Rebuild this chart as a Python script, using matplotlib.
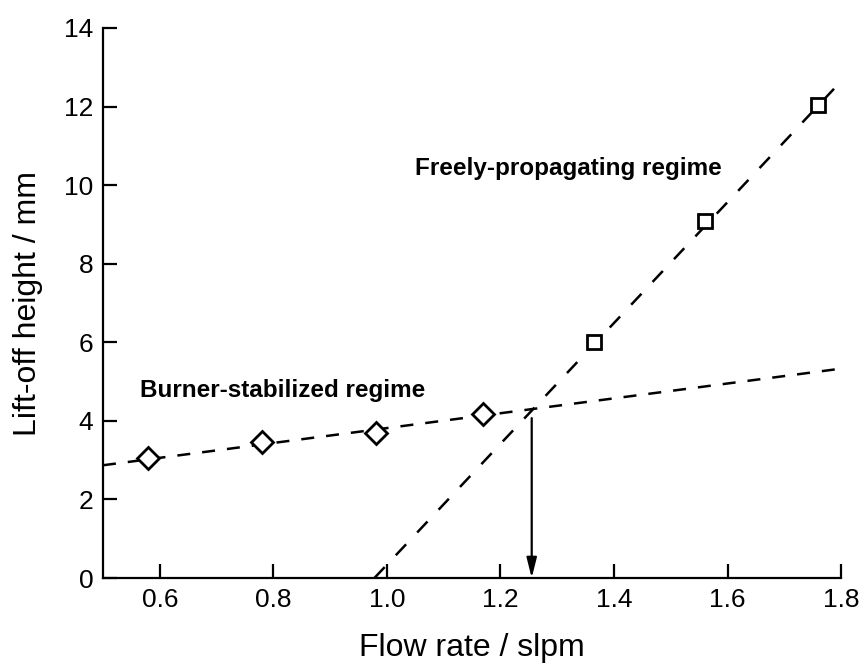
import numpy as np
import matplotlib.pyplot as plt

plt.rcParams['font.family'] = ['Liberation Sans', 'DejaVu Sans']

# measured points
burner_x = [0.58, 0.78, 0.98, 1.17]
burner_y = [3.05, 3.45, 3.70, 4.18]
free_x = [1.365, 1.56, 1.76]
free_y = [6.00, 9.08, 12.05]

# fitted lines
burner_line_x = [0.5, 1.8]
burner_line_y = [2.87, 5.33]
free_line_x = [0.978, 1.795]
free_line_y = [0.0, 12.57]

arrow_x = 1.255
arrow_top = 4.07

fig = plt.figure(figsize=(8.61, 6.68), dpi=100)
ax = fig.add_axes([0.1196, 0.1347, 0.8574, 0.8234])

ax.plot(burner_line_x, burner_line_y, color='black', lw=1.8, dashes=(5.2, 4.8))
ax.plot(free_line_x, free_line_y, color='black', lw=1.8, dashes=(6, 6.5))

ax.plot(burner_x, burner_y, linestyle='none', marker='D', markersize=11.5,
        markerfacecolor='white', markeredgecolor='black', markeredgewidth=2)
ax.plot(free_x, free_y, linestyle='none', marker='s', markersize=10,
        markerfacecolor='white', markeredgecolor='black', markeredgewidth=2)

ax.annotate('', xy=(arrow_x, 0), xytext=(arrow_x, arrow_top),
            arrowprops=dict(arrowstyle='-|>,head_length=1.2,head_width=0.3',
                            color='black', lw=1.6, shrinkA=0, shrinkB=0))

ax.text(1.049, 10.43, 'Freely-propagating regime', fontsize=17.5, fontweight='bold',
        ha='left', va='center')
ax.text(0.565, 4.78, 'Burner-stabilized regime', fontsize=17.5, fontweight='bold',
        ha='left', va='center')

ax.set_xlim(0.5, 1.8)
ax.set_ylim(0, 14)
ax.set_xticks([0.6, 0.8, 1.0, 1.2, 1.4, 1.6, 1.8])
ax.set_yticks([0, 2, 4, 6, 8, 10, 12, 14])
ax.set_xticklabels(['0.6', '0.8', '1.0', '1.2', '1.4', '1.6', '1.8'])

for s in ['top', 'right']:
    ax.spines[s].set_visible(False)
for s in ['left', 'bottom']:
    ax.spines[s].set_linewidth(1.6)
ax.tick_params(direction='in', length=10, width=1.6, labelsize=19, pad=7)

ax.set_xlabel('Flow rate / slpm', fontsize=23, labelpad=15)
ax.set_ylabel('Lift-off height / mm', fontsize=23, labelpad=15)

fig.savefig('out.png', dpi=100)
